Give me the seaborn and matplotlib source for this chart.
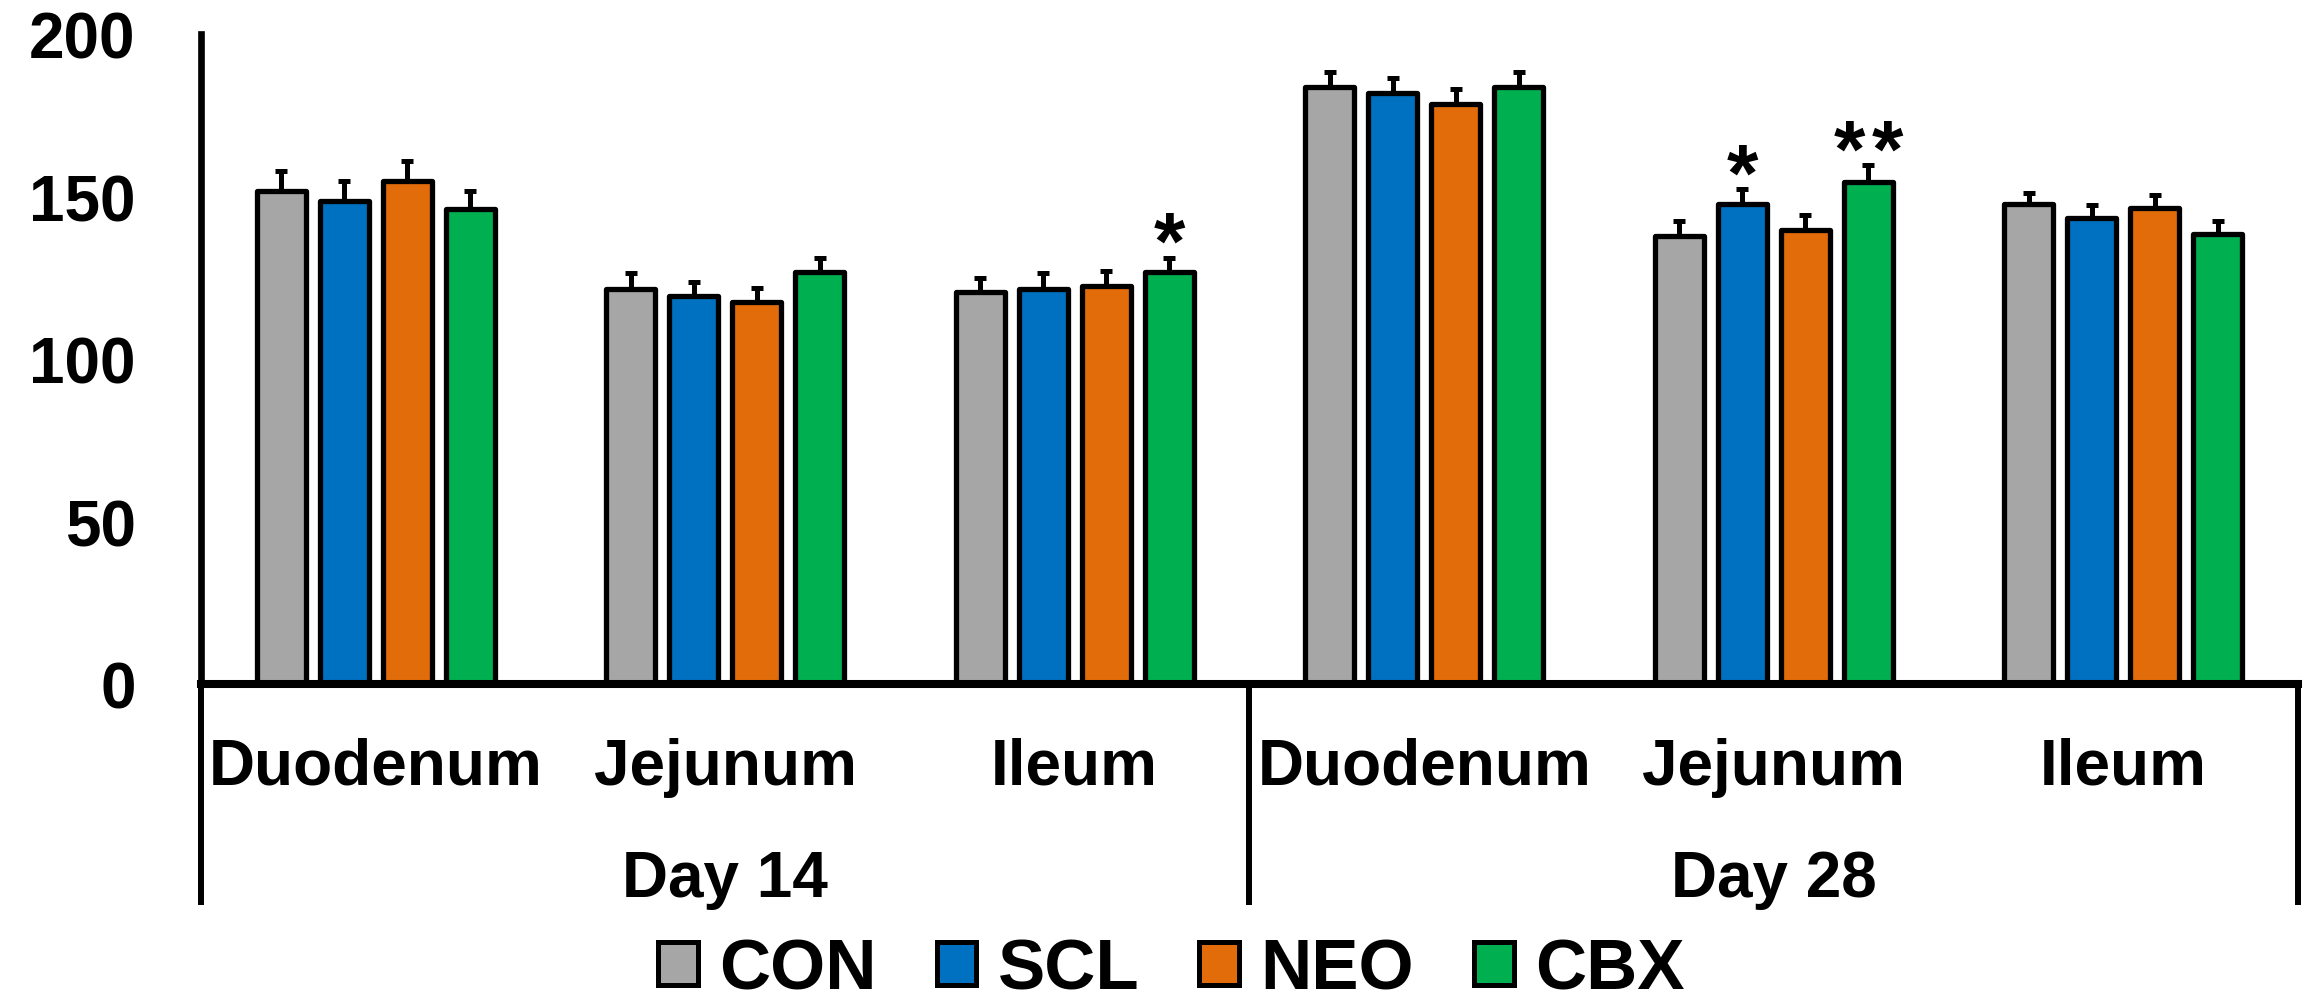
import matplotlib
matplotlib.use("Agg")
import matplotlib.pyplot as plt
import matplotlib.transforms as mtransforms
from matplotlib.patches import Patch
import seaborn as sns
import pandas as pd

# ---------------- data ----------------
days = ["Day 14", "Day 28"]
regions = ["Duodenum", "Jejunum", "Ileum"]
groups = ["CON", "SCL", "NEO", "CBX"]

con_mean = [151.7, 121.7, 120.5, 183.6, 137.9, 147.7]
scl_mean = [148.5, 119.4, 121.7, 181.8, 147.7, 143.4]
neo_mean = [154.7, 117.5, 122.4, 178.6, 139.7, 146.6]
cbx_mean = [146.2, 126.8, 126.8, 183.6, 154.6, 138.6]

con_err = [6.2, 4.7, 4.6, 4.7, 4.6, 3.3]
scl_err = [6.2, 4.4, 4.7, 4.6, 4.7, 3.9]
neo_err = [6.4, 4.5, 4.6, 4.6, 4.6, 3.9]
cbx_err = [5.5, 4.3, 4.4, 4.7, 5.1, 3.9]

# significance marks: (segment index, group, label)
sig_marks = [(2, "CBX", "*"), (4, "SCL", "*"), (4, "CBX", "**")]

colors = ["#A6A6A6", "#0070C0", "#E36C0A", "#00B050"]

# ---------------- table ----------------
seg_keys = [f"{d}|{r}" for d in days for r in regions]
seg_labels = [r for d in days for r in regions]
means = {"CON": con_mean, "SCL": scl_mean, "NEO": neo_mean, "CBX": cbx_mean}
errs = {"CON": con_err, "SCL": scl_err, "NEO": neo_err, "CBX": cbx_err}
rows = []
for g in groups:
    for j, k in enumerate(seg_keys):
        rows.append({"seg": k, "group": g, "value": means[g][j], "err": errs[g][j]})
df = pd.DataFrame(rows)

# ---------------- figure ----------------
sns.set_style("white")
plt.rcParams["font.family"] = ["Liberation Sans", "DejaVu Sans"]
plt.rcParams["font.weight"] = "bold"
for key in ["text.color", "axes.labelcolor", "xtick.color", "ytick.color",
            "axes.edgecolor"]:
    plt.rcParams[key] = "black"

fig, ax = plt.subplots(figsize=(23.1, 10.03), dpi=100)
fig.subplots_adjust(left=0.087, right=0.9948, bottom=0.317, top=0.965)

sns.barplot(data=df, x="seg", y="value", hue="group", order=seg_keys,
            hue_order=groups, palette=colors, width=0.72, gap=0.22,
            edgecolor="black", linewidth=3.8, errorbar=None, legend=False,
            saturation=1, ax=ax)

# error bars (upper only), located from the drawn bars
slot = 0.72 / len(groups)
for p in ax.patches:
    h = p.get_height()
    if h <= 0:
        continue
    p.set_joinstyle("round")
    xc = p.get_x() + p.get_width() / 2
    j = int(round(xc))
    i = int(round((xc - j + 0.36 - slot / 2) / slot))
    e = errs[groups[i]][j]
    ax.errorbar([xc], [h], yerr=[[0], [e]], fmt="none", ecolor="black",
                elinewidth=3.6, capsize=4.3, capthick=3.6, zorder=5)

# significance asterisks (each star placed separately for wider spacing)
star_step = 0.109
for j, g, lab in sig_marks:
    i = groups.index(g)
    xc = j - 0.36 + slot / 2 + i * slot
    top = means[g][j] + errs[g][j]
    n = len(lab)
    for s in range(n):
        xs = xc + (s - (n - 1) / 2) * star_step
        ax.text(xs, top - 8.4, "*", ha="center", va="bottom", fontsize=58,
                fontweight="bold", color="black")

ax.set_xlim(-0.5, 5.5)
ax.set_ylim(0, 200)
ax.set_yticks([0, 50, 100, 150, 200])
ax.set_xticks(range(6))
ax.set_xticklabels(seg_labels, fontsize=46, fontweight="bold", color="black")
ax.tick_params(axis="x", length=0, pad=38)
ax.tick_params(axis="y", direction="in", length=14, width=4.8, pad=47,
               labelsize=46, colors="black")
for t in ax.get_yticklabels():
    t.set_fontweight("bold")
ax.set_xlabel("")
ax.set_ylabel("")

for s in ["top", "right"]:
    ax.spines[s].set_visible(False)
ax.spines["left"].set_linewidth(4.8)
ax.spines["bottom"].set_linewidth(5.8)
ax.spines["left"].set_color("black")
ax.spines["bottom"].set_color("black")

# group separators and day labels
trans = mtransforms.blended_transform_factory(ax.transData, ax.transAxes)
for xs in [-0.5, 2.5, 5.5]:
    ax.plot([xs, xs], [0, -0.34], transform=trans, color="black",
            lw=4.3, clip_on=False, solid_capstyle="butt")
for k, d in enumerate(days):
    ax.text(1 + 3 * k, -0.30, d, transform=trans, ha="center", va="center",
            fontsize=46, fontweight="bold", color="black")

# legend
handles = [Patch(facecolor=c, edgecolor="black", linewidth=3.6, label=g)
           for c, g in zip(colors, groups)]
fig.legend(handles=handles, loc="center", bbox_to_anchor=(0.507, 0.031),
           ncol=4, frameon=False, prop={"size": 51, "weight": "bold"},
           labelcolor="black",
           handlelength=0.56, handleheight=0.56, handletextpad=0.3,
           columnspacing=0.85, borderpad=0)

fig.savefig("out.png", dpi=100)
